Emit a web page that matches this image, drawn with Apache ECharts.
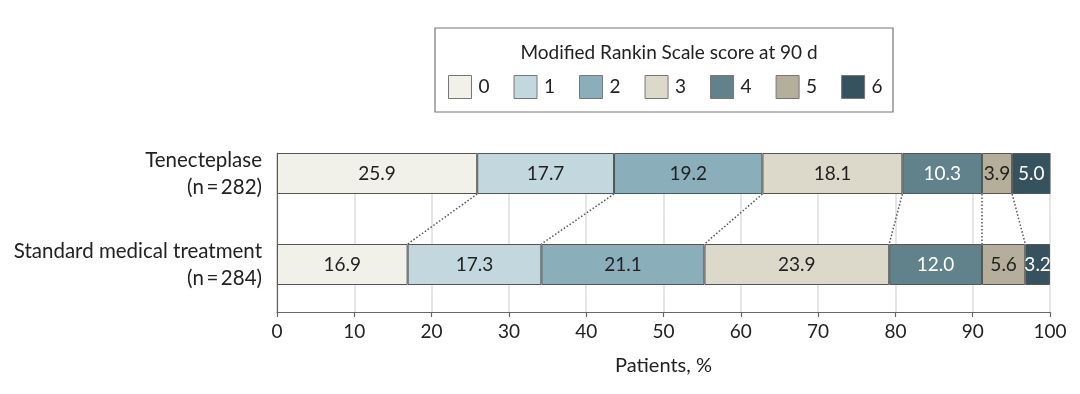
<!DOCTYPE html>
<html>
<head>
<meta charset="utf-8">
<script src="https://cdn.jsdelivr.net/npm/echarts@6/dist/echarts.min.js"></script>
<style>html,body{margin:0;padding:0;background:#fff}#c{width:1080px;height:394px}</style>
</head>
<body>
<div id="c"></div>
<script>
const categories = ['Tenecteplase\n(n\u2009=\u2009282)', 'Standard medical treatment\n(n\u2009=\u2009284)'];
const scores = ['0', '1', '2', '3', '4', '5', '6'];
const tenecteplase = [25.9, 17.7, 19.2, 18.1, 10.3, 3.9, 5.0];
const standard = [16.9, 17.3, 21.1, 23.9, 12.0, 5.6, 3.2];
const xTicks = [0, 10, 20, 30, 40, 50, 60, 70, 80, 90, 100];

const colors = ['#f1f1ea', '#c2d8de', '#8aafba', '#dcd9cb', '#62828b', '#b5ae9a', '#36525f'];
const labelColors = ['#222', '#222', '#222', '#222', '#ffffff', '#222', '#ffffff'];
const FONT = 'Lato';
const TXT = '#222';
const BAR_W = 41;

function cumulative(arr) {
  const out = []; let s = 0;
  for (let i = 0; i < arr.length - 1; i++) { s += arr[i]; out.push(+s.toFixed(1)); }
  return out;
}
const topB = cumulative(tenecteplase);
const botB = cumulative(standard);
const connectors = topB.map((t, i) => [t, botB[i]]);

const series = scores.map((s, i) => ({
  name: s,
  type: 'bar',
  stack: 'total',
  xAxisIndex: 0,
  yAxisIndex: 0,
  barWidth: BAR_W,
  data: [tenecteplase[i], standard[i]],
  itemStyle: { color: colors[i], borderColor: '#555', borderWidth: 1 },
  label: {
    show: true, position: 'inside', fontFamily: FONT, fontSize: 19,
    color: labelColors[i],
    formatter: p => p.value.toFixed(1)
  },
  emphasis: { disabled: true }
}));

series.push({
  type: 'custom',
  xAxisIndex: 0,
  yAxisIndex: 0,
  silent: true,
  z: 5,
  data: connectors,
  renderItem: function (params, api) {
    const a = api.coord([api.value(0), 0]);
    const b = api.coord([api.value(1), 1]);
    const h = BAR_W / 2;
    return {
      type: 'line',
      shape: { x1: a[0], y1: a[1] + h, x2: b[0], y2: b[1] - h },
      style: { stroke: '#555', lineWidth: 1.5, lineDash: [1.5, 2] }
    };
  }
});

const chart = echarts.init(document.getElementById('c'), null, { renderer: 'canvas' });
chart.setOption({
  animation: false,
  backgroundColor: '#fff',
  textStyle: { fontFamily: FONT },
  title: {
    text: 'Modified Rankin Scale score at 90 d',
    left: 664, top: 38, textAlign: 'center',
    textStyle: { fontFamily: FONT, fontSize: 19, fontWeight: 'normal', color: TXT }
  },
  graphic: [{
    type: 'rect', shape: { x: 435, y: 28, width: 458, height: 84 },
    style: { fill: 'none', stroke: '#777', lineWidth: 1.2 }, z: -1
  }],
  legend: {
    data: scores,
    left: 448, top: 75, padding: 0,
    itemWidth: 23, itemHeight: 23, itemGap: 24,
    icon: 'rect',
    itemStyle: { borderColor: '#777', borderWidth: 1 },
    textStyle: { fontFamily: FONT, fontSize: 19, color: TXT, padding: [0, 0, 0, 2] },
    selectedMode: false
  },
  grid: [
    { left: 277, right: 30, top: 128, bottom: 84 },
    { left: 277, right: 30, top: 153, bottom: 82 }
  ],
  xAxis: [
    { gridIndex: 0, type: 'value', min: 0, max: 100, show: false },
    {
      gridIndex: 1, type: 'value', min: 0, max: 100, interval: 10,
      axisLine: { show: true, lineStyle: { color: '#666', width: 1.2 } },
      axisTick: { show: true, length: 5, lineStyle: { color: '#666', width: 1.2 } },
      splitLine: { show: true, lineStyle: { color: '#dedede', width: 1.5 } },
      axisLabel: { fontFamily: FONT, fontSize: 19, color: TXT, margin: 10,
        formatter: v => xTicks.includes(v) ? String(v) : '' },
      name: 'Patients, %', nameLocation: 'middle', nameGap: 44,
      nameTextStyle: { fontFamily: FONT, fontSize: 20, color: TXT }
    }
  ],
  yAxis: [
    {
      gridIndex: 0, type: 'category', data: categories, inverse: true,
      axisLine: { show: false }, axisTick: { show: false },
      axisLabel: { fontFamily: FONT, fontSize: 20.5, lineHeight: 27, color: TXT, margin: 15, align: 'right' }
    },
    {
      gridIndex: 1, type: 'value', min: 0, max: 1,
      axisLine: { show: true, lineStyle: { color: '#666', width: 1.2 } },
      axisTick: { show: false }, axisLabel: { show: false }, splitLine: { show: false }
    }
  ],
  series: series
});
</script>
</body>
</html>
